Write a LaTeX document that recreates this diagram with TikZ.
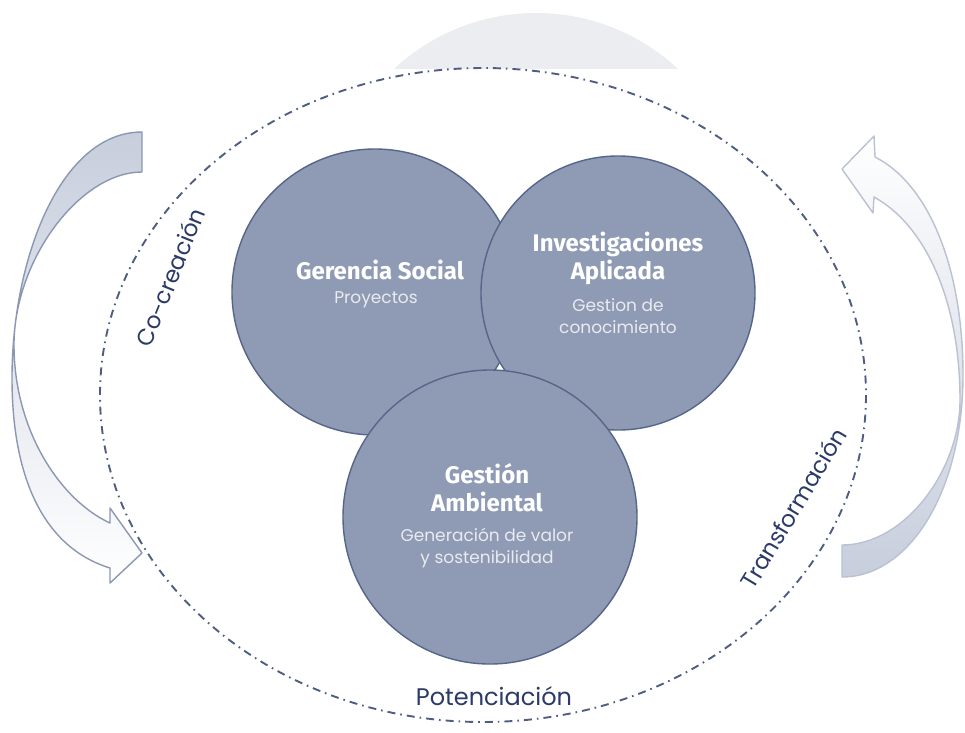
\documentclass[tikz,border=0pt]{standalone}
\usepackage{fontspec}
\setmainfont{Poppins}
\newfontfamily\titlefont{Fira Sans}
\definecolor{circfill}{HTML}{8F9BB4}
\definecolor{circline}{HTML}{56658A}
\definecolor{navy}{HTML}{2B3A66}
\definecolor{dashcol}{HTML}{4F5D82}
\definecolor{arrfill}{HTML}{C7CEDC}
\definecolor{arrlineL}{HTML}{8B97B3}
\definecolor{arrlineR}{HTML}{B9C1D2}
\definecolor{topgray}{HTML}{ECEDF1}
\definecolor{subtext}{HTML}{E8EBF0}
\begin{document}
\begin{tikzpicture}[x=1pt,y=-1pt,
  bigcircle/.style={circle,draw=circline,line width=1.4pt,fill=circfill,inner sep=0pt},
  titletext/.style={text=white,font=\titlefont\bfseries\fontsize{24}{28}\selectfont,align=center,inner sep=0pt},
  subtitletext/.style={text=subtext,font=\fontsize{17}{22.5}\selectfont,align=center,inner sep=0pt},
  labeltext/.style={text=navy,font=\fontsize{23}{26}\selectfont,inner sep=0pt},
  ringline/.style={draw=dashcol,line width=1.9pt,dash pattern=on 8pt off 5pt on 1.6pt off 5pt}
]
\useasboundingbox (0,0) rectangle (965,732);
\fill[white] (0,0) rectangle (965,732);
% faint top shape
\begin{scope}
\clip (0,0) rectangle (965,68);
\fill[topgray] (536,221) circle[radius=208];
\end{scope}
% ring
\draw[ringline] (483,395) ellipse[x radius=383, y radius=327];
% left curved arrow
\path[draw=arrlineL,line width=1.4pt,top color=arrfill,middle color=white,bottom color=white,line join=round]
  (142,132) .. controls (60,132) and (12,260) .. (12,378)
  .. controls (12,480) and (45,548) .. (110,568) -- (110,583) -- (142,553) -- (110,508) -- (110,523)
  .. controls (60,500) and (14,430) .. (14,345)
  .. controls (14,260) and (80,172) .. (142,172) -- cycle;
% right curved arrow
\path[draw=arrlineR,line width=1.4pt,bottom color=arrfill,middle color=white,top color=white,line join=round]
  (842,577) .. controls (910,577) and (963,490) .. (963,375)
  .. controls (963,270) and (930,185) .. (875,157) -- (874,136) -- (842,169) -- (873,213) -- (874,197)
  .. controls (925,225) and (960,300) .. (960,400)
  .. controls (960,470) and (905,545) .. (842,545) -- cycle;
% circles
\node[bigcircle,minimum size=286pt] (gs) at (375,292) {};
\node[bigcircle,minimum size=274pt] (ia) at (618,293) {};
\node[bigcircle,minimum size=294pt] (ga) at (490,517) {};
% circle texts
\node[titletext] (gst) at (380,270) {Gerencia Social};
\node[subtitletext] (gss) at (376,300) {Proyectos};
\node[titletext] (iat) at (618,258) {Investigaciones\\Aplicada};
\node[subtitletext] (ias) at (618,316) {Gestion de\\conocimiento};
\node[titletext] (gat) at (487,488) {Gestión\\Ambiental};
\node[subtitletext] (gas) at (487,548) {Generación de valor\\y sostenibilidad};
% labels
\node[labeltext,rotate=68] (cc) at (170,277) {Co-creación};
\node[labeltext,rotate=59] (tr) at (793,508) {Transformación};
\node[labeltext,font=\fontsize{24}{26}\selectfont] (po) at (494,696) {Potenciación};
\end{tikzpicture}
\end{document}
